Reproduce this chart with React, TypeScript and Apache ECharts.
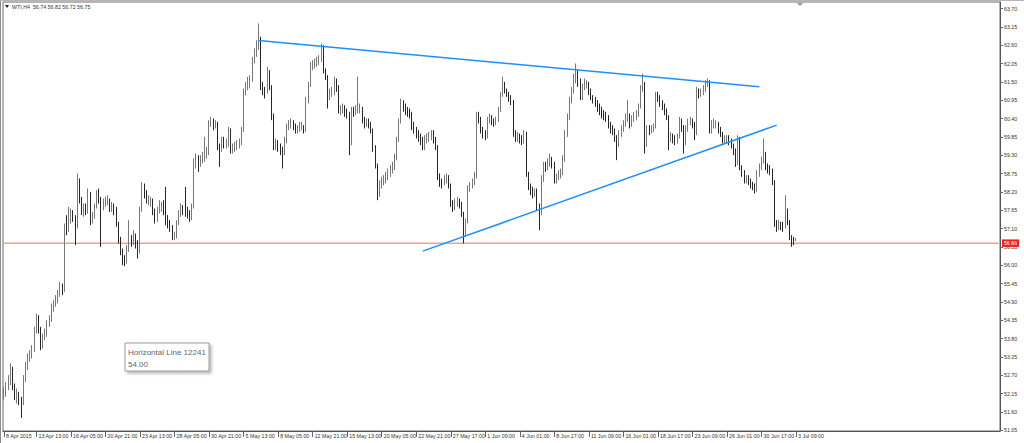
import React, { useEffect, useRef } from "react";
import * as echarts from "echarts";

const symbolTitle = "WTI,H4";
const lastQuote = [56.74, 56.82, 56.72, 56.75];
const totalSlots = 462;
const yMin = 51.025;
const yMax = 63.895;

// [open, close, low, high]
const candles: number[][] = [
  [52.05,52.15,51.95,52.35],[52.15,52.35,52.05,52.5],[52.35,52.45,52.25,52.7],[52.45,52.85,52.4,53.05],
  [52.85,52.35,52.25,52.95],[52.35,52.05,51.95,52.45],[52.05,52.1,51.85,52.3],[52.1,51.95,51.8,52.2],
  [51.95,51.87,51.42,52.05],[51.87,52.6,51.8,52.7],[52.6,52.95,52.5,53.1],[52.95,53.25,52.85,53.35],
  [53.25,53.3,53.1,53.45],[53.3,53.45,53.2,53.6],[53.45,54.05,53.4,54.15],[54.05,54.4,53.95,54.55],
  [54.4,54.1,53.95,54.5],[54.1,53.65,53.45,54.15],[53.65,53.85,53.5,53.95],[53.85,53.95,53.75,54.1],
  [53.95,54.25,53.85,54.35],[54.25,54.35,54.15,54.5],[54.35,54.75,54.3,54.85],[54.75,54.85,54.6,54.95],
  [54.85,54.95,54.75,55.1],[54.95,55.15,54.85,55.25],[55.15,55.35,55.05,55.5],[55.35,55.25,55.1,55.45],
  [55.25,57.15,55.2,57.25],[57.15,57.1,56.9,57.5],[57.1,57.35,57.0,57.75],[57.35,57.55,57.25,57.7],
  [57.55,57.45,57.3,57.65],[57.45,57.15,56.6,57.5],[57.15,58.5,57.1,58.75],[58.5,57.95,57.85,58.6],
  [57.95,57.65,57.5,58.05],[57.65,57.7,57.45,57.85],[57.7,57.65,57.5,57.85],[57.65,58.15,57.55,58.3],
  [58.15,57.35,57.2,58.2],[57.35,57.45,57.25,57.6],[57.45,57.75,57.4,57.85],[57.75,58.1,57.7,58.25],
  [58.1,57.95,57.85,58.3],[57.95,57.75,56.55,58.05],[57.75,57.85,57.65,58.0],[57.85,57.9,57.75,58.05],
  [57.9,57.95,57.8,58.1],[57.95,57.75,57.6,58.0],[57.75,57.75,57.6,57.9],[57.75,57.65,57.5,57.85],
  [57.65,57.25,57.15,57.75],[57.25,56.75,56.65,57.3],[56.75,56.45,56.3,56.85],[56.45,56.15,56.0,56.5],
  [56.15,56.1,55.97,56.3],[56.1,56.5,56.05,56.6],[56.5,56.75,56.4,57.35],[56.75,56.7,56.55,56.9],
  [56.7,56.85,56.6,57.05],[56.85,56.65,56.5,56.95],[56.65,56.4,56.2,56.75],[56.4,57.65,56.35,57.75],
  [57.65,58.35,57.6,58.5],[58.35,58.15,58.0,58.45],[58.15,57.95,57.85,58.25],[57.95,57.95,57.8,58.1],
  [57.95,57.95,57.75,58.05],[57.95,57.6,57.5,58.0],[57.6,57.35,57.25,57.7],[57.35,57.65,57.3,57.75],
  [57.65,57.8,57.55,57.95],[57.8,57.8,57.6,57.9],[57.8,57.6,57.5,57.95],[57.6,57.35,57.2,58.35],
  [57.35,57.25,57.1,57.5],[57.25,57.15,57.0,57.35],[57.15,56.85,56.75,57.2],[56.85,56.85,56.75,57.0],
  [56.85,57.25,56.8,57.35],[57.25,57.55,57.2,57.65],[57.55,57.7,57.45,57.85],[57.7,57.65,57.5,57.8],
  [57.65,57.6,57.45,58.35],[57.6,57.55,57.4,57.75],[57.55,57.45,57.3,57.65],[57.45,57.75,57.35,57.85],
  [57.75,59.1,57.7,59.2],[59.1,59.2,58.9,59.35],[59.2,59.05,58.8,59.3],[59.05,59.15,58.95,59.3],
  [59.15,59.25,59.05,59.4],[59.25,59.3,59.1,59.85],[59.3,59.35,59.2,59.55],[59.35,60.25,59.3,60.35],
  [60.25,60.3,60.15,60.45],[60.3,60.2,60.05,60.4],[60.2,60.25,60.1,60.35],[60.25,59.55,59.45,60.3],
  [59.55,59.5,58.95,59.65],[59.5,59.75,59.4,59.85],[59.75,59.6,59.5,59.85],[59.6,59.65,59.5,59.8],
  [59.65,60.05,59.55,60.15],[60.05,59.45,59.35,60.1],[59.45,59.5,59.35,59.65],[59.5,59.55,59.4,59.7],
  [59.55,59.65,59.45,59.75],[59.65,59.65,59.5,59.8],[59.65,60.05,59.6,60.15],[60.05,61.2,60.0,61.3],
  [61.2,61.35,61.1,61.5],[61.35,61.5,61.25,61.65],[61.5,61.55,61.3,61.7],[61.55,62.15,61.5,62.25],
  [62.15,62.35,62.05,62.5],[62.35,62.65,62.25,62.75],[62.65,62.75,62.45,63.25],[62.75,61.35,61.25,62.85],
  [61.35,61.25,61.1,61.5],[61.25,61.2,61.0,61.35],[61.2,61.8,61.15,61.95],[61.8,61.35,61.25,61.85],
  [61.35,60.45,60.35,61.4],[60.45,59.55,59.45,60.55],[59.55,59.65,59.45,59.8],[59.65,59.55,59.4,59.75],
  [59.55,59.45,59.3,59.65],[59.45,59.35,58.9,59.55],[59.35,59.75,59.3,59.85],[59.75,60.15,59.65,60.25],
  [60.15,60.2,60.05,60.35],[60.2,60.25,60.1,60.4],[60.25,60.15,60.05,60.35],[60.15,60.05,59.95,60.25],
  [60.05,60.1,59.95,60.2],[60.1,60.15,60.0,60.3],[60.15,60.15,60.05,60.3],[60.15,60.05,59.95,60.2],
  [60.05,60.95,60.0,61.05],[60.95,61.4,60.85,61.5],[61.4,62.0,61.35,62.1],[62.0,62.0,61.85,62.15],
  [62.0,62.05,61.9,62.2],[62.05,62.1,61.95,62.25],[62.1,62.15,62.0,62.3],[62.15,62.55,62.1,62.65],
  [62.55,61.85,61.75,62.6],[61.85,61.65,61.55,61.9],[61.65,61.05,60.7,61.7],[61.05,61.15,60.95,61.3],
  [61.15,61.2,61.05,61.35],[61.2,61.55,61.1,61.65],[61.55,61.35,61.2,61.6],[61.35,60.65,60.55,61.4],
  [60.65,60.65,60.5,60.8],[60.65,60.7,60.55,60.85],[60.7,60.6,60.45,60.8],[60.6,60.55,60.4,60.7],
  [60.55,59.65,59.3,60.6],[59.65,60.65,59.6,60.75],[60.65,60.6,60.45,60.75],[60.6,60.65,60.5,60.8],
  [60.65,60.7,60.55,61.65],[60.7,60.7,60.55,60.85],[60.7,60.35,60.25,60.75],[60.35,60.25,60.1,60.45],
  [60.25,60.3,60.15,60.4],[60.3,60.25,60.1,60.4],[60.25,60.05,59.95,60.3],[60.05,59.5,59.4,60.1],
  [59.5,59.0,58.9,59.6],[59.0,58.15,57.95,59.05],[58.15,58.45,58.05,58.55],[58.45,58.5,58.3,58.65],
  [58.5,58.55,58.4,58.7],[58.55,58.65,58.45,58.8],[58.65,58.75,58.55,58.9],[58.75,58.85,58.65,59.0],
  [58.85,58.95,58.75,59.1],[58.95,59.25,58.85,59.35],[59.25,59.75,59.15,59.85],[59.75,60.3,59.7,60.4],
  [60.3,60.85,60.25,61.0],[60.85,60.75,60.6,60.95],[60.75,60.65,60.5,60.85],[60.65,60.6,60.45,60.75],
  [60.6,60.55,60.4,60.7],[60.55,60.15,60.05,60.6],[60.15,60.05,59.95,60.3],[60.05,59.95,59.8,60.15],
  [59.95,59.85,59.7,60.05],[59.85,59.75,59.6,59.95],[59.75,59.55,59.45,59.85],[59.55,59.75,59.45,59.9],
  [59.75,59.85,59.65,59.95],[59.85,59.85,59.7,60.0],[59.85,59.95,59.75,60.05],[59.95,59.75,59.65,60.05],
  [59.75,59.55,59.45,59.85],[59.55,58.65,58.55,59.6],[58.65,58.5,58.35,58.75],[58.5,58.45,58.3,58.6],
  [58.45,58.55,58.4,58.7],[58.55,58.6,58.45,58.75],[58.6,58.4,58.3,58.7],[58.4,57.85,57.75,58.45],
  [57.85,57.75,57.6,57.95],[57.75,57.85,57.65,58.0],[57.85,57.9,57.75,58.05],[57.9,57.85,57.7,58.0],
  [57.85,57.55,57.45,57.9],[57.55,56.95,56.65,57.6],[56.95,57.3,56.85,57.4],[57.3,58.3,57.25,58.4],
  [58.3,58.4,58.2,58.5],[58.4,58.5,58.3,58.6],[58.5,58.65,58.4,58.8],[58.65,60.5,58.6,60.6],
  [60.5,60.4,60.25,60.6],[60.4,60.05,59.95,60.45],[60.05,59.95,59.8,60.15],[59.95,59.85,59.75,60.05],
  [59.85,60.35,59.8,60.45],[60.35,60.45,60.25,60.55],[60.45,60.3,60.2,60.5],[60.3,60.25,60.15,60.4],
  [60.25,60.35,60.2,60.45],[60.35,60.65,60.3,60.75],[60.65,61.1,60.6,61.2],[61.1,61.45,61.05,61.65],
  [61.45,61.25,61.15,61.5],[61.25,61.15,61.05,61.3],[61.15,61.05,60.9,61.2],[61.05,60.9,60.8,61.1],
  [60.9,59.95,59.85,60.95],[59.95,59.85,59.7,60.05],[59.85,59.85,59.7,60.0],[59.85,59.8,59.65,59.95],
  [59.8,59.75,59.6,59.9],[59.75,59.95,59.65,60.05],[59.95,58.75,58.65,60.0],[58.75,58.35,58.25,58.8],
  [58.35,58.25,58.1,58.45],[58.25,58.15,58.0,58.35],[58.15,58.2,58.05,58.3],[58.2,57.75,57.65,58.3],
  [57.75,57.55,57.05,57.85],[57.55,58.6,57.5,58.7],[58.6,59.0,58.5,59.1],[59.0,58.95,58.8,59.1],
  [58.95,59.05,58.85,59.2],[59.05,59.15,58.95,59.35],[59.15,59.05,58.9,59.25],[59.05,58.55,58.45,59.1],
  [58.55,58.65,58.45,58.75],[58.65,58.7,58.55,58.85],[58.7,58.8,58.6,58.9],[58.8,59.2,58.7,59.3],
  [59.2,59.95,59.1,60.05],[59.95,60.45,59.85,60.55],[60.45,60.95,60.35,61.05],[60.95,61.25,60.85,61.35],
  [61.25,61.6,61.15,61.75],[61.6,61.75,61.45,62.05],[61.75,61.5,61.35,61.85],[61.5,61.05,60.95,61.6],
  [61.05,61.35,60.95,61.45],[61.35,61.45,61.25,61.6],[61.45,61.45,61.3,61.55],[61.45,61.2,61.1,61.5],
  [61.2,61.05,60.95,61.3],[61.05,60.95,60.85,61.1],[60.95,60.9,60.75,61.05],[60.9,60.75,60.6,60.95],
  [60.75,60.65,60.5,60.85],[60.65,60.55,60.4,60.75],[60.55,60.5,60.35,60.65],[60.5,60.45,60.3,60.6],
  [60.45,60.2,60.1,60.5],[60.2,60.1,59.95,60.3],[60.1,60.05,59.9,60.2],[60.05,59.85,59.7,60.1],
  [59.85,59.65,59.15,59.9],[59.65,59.95,59.55,60.05],[59.95,60.1,59.85,60.2],[60.1,60.25,60.0,60.35],
  [60.25,60.4,60.15,60.55],[60.4,60.5,60.3,60.95],[60.5,60.25,60.1,60.55],[60.25,60.4,60.15,60.5],
  [60.4,60.45,60.3,60.6],[60.45,60.55,60.35,60.65],[60.55,60.75,60.45,60.85],[60.75,61.3,60.7,61.4],
  [61.3,61.45,61.2,61.75],[61.45,59.65,59.35,61.5],[59.65,60.1,59.55,60.2],[60.1,60.05,59.9,60.2],
  [60.05,60.1,59.95,60.2],[60.1,60.15,60.0,60.25],[60.15,61.1,60.1,61.2],[61.1,61.05,60.9,61.2],
  [61.05,60.9,60.75,61.1],[60.9,60.8,60.65,60.95],[60.8,60.6,60.5,60.85],[60.6,60.45,60.35,60.7],
  [60.45,59.85,59.45,60.5],[59.85,59.85,59.7,60.0],[59.85,59.8,59.65,59.95],[59.8,59.75,59.6,59.9],
  [59.75,59.85,59.65,59.95],[59.85,60.35,59.8,60.45],[60.35,60.15,60.0,60.4],[60.15,59.7,59.35,60.2],
  [59.7,60.1,59.6,60.2],[60.1,60.3,60.0,60.4],[60.3,60.35,60.2,60.45],[60.35,60.25,60.1,60.4],
  [60.25,59.95,59.75,60.3],[59.95,61.25,59.9,61.35],[61.25,61.15,61.0,61.3],[61.15,61.2,61.05,61.3],
  [61.2,61.3,61.1,61.4],[61.3,61.45,61.2,61.55],[61.45,61.5,61.35,61.6],[61.5,60.05,59.95,61.55],
  [60.05,60.25,59.95,60.35],[60.25,60.25,60.1,60.4],[60.25,60.25,60.1,60.35],[60.25,60.1,59.95,60.3],
  [60.1,59.95,59.85,60.15],[59.95,59.75,59.65,60.0],[59.75,59.8,59.65,59.9],[59.8,59.8,59.65,59.9],
  [59.8,59.75,59.6,59.9],[59.75,59.6,59.5,59.8],[59.6,59.45,59.3,59.65],[59.45,59.05,58.95,59.5],
  [59.05,59.8,59.0,59.9],[59.8,58.95,58.85,59.85],[58.95,58.8,58.65,59.0],[58.8,58.55,58.45,58.85],
  [58.55,58.6,58.45,58.7],[58.6,58.55,58.4,58.7],[58.55,58.45,58.3,58.6],[58.45,58.35,58.25,58.5],
  [58.35,58.25,58.15,58.45],[58.25,58.75,58.2,58.85],[58.75,58.95,58.65,59.05],[58.95,59.15,58.85,59.25],
  [59.15,59.35,59.05,59.8],[59.35,58.95,58.85,59.4],[58.95,58.9,58.75,59.05],[58.9,58.85,58.7,59.0],
  [58.85,58.5,58.4,58.9],[58.5,57.25,57.15,58.55],[57.25,57.15,57.0,57.35],[57.15,57.25,57.05,57.35],
  [57.25,57.2,57.05,57.3],[57.2,57.15,57.0,57.3],[57.15,57.65,57.1,58.1],[57.65,57.3,57.2,57.7],
  [57.3,56.85,56.75,57.35],[56.85,56.75,56.55,56.9],[56.75,56.7,56.6,56.85],[56.74,56.75,56.72,56.82],
];

const tickBars = [0, 15, 31, 47, 63, 79, 95, 111, 127, 143, 159, 175, 191, 207, 223, 239, 255, 271, 287, 303, 319, 335, 351, 367];
const tickLabels = [
  "8 Apr 2015", "13 Apr 13:00", "16 Apr 05:00", "20 Apr 21:00", "23 Apr 13:00", "28 Apr 05:00",
  "30 Apr 21:00", "5 May 13:00", "8 May 05:00", "12 May 21:00", "15 May 13:00", "20 May 05:00",
  "22 May 21:00", "27 May 17:00", "1 Jun 09:00", "4 Jun 01:00", "8 Jun 17:00", "11 Jun 09:00",
  "16 Jun 01:00", "18 Jun 17:00", "23 Jun 09:00", "26 Jun 01:00", "30 Jun 17:00", "3 Jul 09:00",
];
const priceTicks = [
  51.05, 51.6, 52.15, 52.7, 53.25, 53.8, 54.35, 54.9, 55.45, 56.0, 56.55, 57.1,
  57.65, 58.2, 58.75, 59.3, 59.85, 60.4, 60.95, 61.5, 62.05, 62.6, 63.15, 63.7,
];
const upperTrend = [[118, 62.74], [350, 61.35]];
const lowerTrend = [[194, 56.42], [358, 60.2]];
const bidLine = 56.66;
const bidLineSpan = [[0, bidLine], [totalSlots - 1, bidLine]];
const hLineName = "Horizontal Line 12241";
const hLineValue = "54.00";

const FONT = "Liberation Sans, Arial, sans-serif";

export default function App() {
  const ref = useRef<HTMLDivElement>(null);
  useEffect(() => {
    const chart = echarts.init(ref.current!, null, { renderer: "svg" });
    const categories = Array.from({ length: totalSlots }, (_, i) => String(i));
    const labelAt = new Map<number, string>(tickBars.map((b, k) => [b, tickLabels[k]]));
    chart.setOption({
      animation: false,
      backgroundColor: "#ffffff",
      textStyle: { fontFamily: FONT },
      grid: { left: 3, right: 24, top: 2, bottom: 12, show: true, borderColor: "#6a6a6a", borderWidth: 1 },
      xAxis: {
        type: "category",
        data: categories,
        boundaryGap: true,
        axisLine: { show: true, onZero: false, lineStyle: { color: "#555", width: 1 } },
        axisTick: {
          show: true,
          alignWithLabel: true,
          length: 6,
          interval: (i: number) => labelAt.has(i),
          lineStyle: { color: "#666" },
        },
        axisLabel: {
          interval: (i: number) => labelAt.has(i),
          formatter: (_v: string, i: number) => labelAt.get(i) ?? "",
          align: "left",
          margin: 2,
          padding: [0, 0, 0, 2],
          fontSize: 5.3,
          color: "#333",
          fontFamily: FONT,
        },
        splitLine: { show: false },
      },
      yAxis: {
        type: "value",
        position: "right",
        min: yMin,
        max: yMax,
        axisLine: { show: true, lineStyle: { color: "#555" } },
        axisTick: { show: true, length: 3, customValues: priceTicks, lineStyle: { color: "#666" } },
        axisLabel: {
          customValues: priceTicks,
          formatter: (v: number) => v.toFixed(2),
          fontSize: 5.3,
          color: "#333",
          margin: 4,
          fontFamily: FONT,
        },
        splitLine: { show: false },
      },
      series: [
        {
          type: "line",
          data: bidLineSpan,
          symbol: "none",
          silent: true,
          lineStyle: { color: "#ef6b6b", width: 1 },
          itemStyle: { color: "#ef6b6b" },
          z: 1,
          endLabel: {
            show: true,
            distance: 3,
            formatter: () => bidLine.toFixed(2),
            backgroundColor: "#ff1a1a",
            color: "#ffffff",
            fontSize: 5.3,
            padding: [1.5, 2, 1, 2],
            fontFamily: FONT,
          },
        },
        {
          type: "candlestick",
          data: candles,
          barWidth: 1.3,
          itemStyle: {
            color: "#bdbdbd",
            color0: "#262626",
            borderColor: "#777777",
            borderColor0: "#262626",
            borderWidth: 1,
          },
          z: 2,
        },
        {
          type: "line",
          data: upperTrend,
          symbol: "none",
          lineStyle: { color: "#1e8fff", width: 1.5 },
          z: 3,
        },
        {
          type: "line",
          data: lowerTrend,
          symbol: "none",
          lineStyle: { color: "#1e8fff", width: 1.5 },
          z: 3,
        },
      ],
      graphic: [
        { type: "line", shape: { x1: 0.5, y1: 0, x2: 0.5, y2: 443 }, style: { stroke: "#8a8a8a", lineWidth: 1 } },
        { type: "line", shape: { x1: 0, y1: 0.5, x2: 1024, y2: 0.5 }, style: { stroke: "#b5b5b5", lineWidth: 1 } },
        { type: "polygon", shape: { points: [[5, 5], [9, 5], [7, 8]] }, style: { fill: "#222" } },
        {
          type: "text",
          x: 12,
          y: 7,
          style: {
            text: `${symbolTitle}  ${lastQuote.map((v) => v.toFixed(2)).join(" ")}`,
            fontSize: 5.3,
            fill: "#333",
            fontFamily: FONT,
            verticalAlign: "middle",
          },
        },
        { type: "polygon", shape: { points: [[797, 3], [803, 3], [800, 6]] }, style: { fill: "#9a9a9a" } },
        {
          type: "group",
          x: 125,
          y: 343,
          children: [
            {
              type: "rect",
              shape: { x: 0, y: 0, width: 84, height: 28 },
              style: {
                fill: "#ffffff",
                stroke: "#9a9a9a",
                lineWidth: 1,
                shadowBlur: 3,
                shadowOffsetX: 2,
                shadowOffsetY: 2,
                shadowColor: "rgba(0,0,0,0.3)",
              },
            },
            {
              type: "text",
              x: 3,
              y: 9,
              style: { text: hLineName, fontSize: 8, fill: "#666", fontFamily: FONT, verticalAlign: "middle" },
            },
            {
              type: "text",
              x: 3,
              y: 21,
              style: { text: hLineValue, fontSize: 8, fill: "#666", fontFamily: FONT, verticalAlign: "middle" },
            },
          ],
        },
      ],
    });
    return () => chart.dispose();
  }, []);
  return <div ref={ref} style={{ position: "fixed", left: 0, top: 0, width: 1024, height: 443 }} />;
}
